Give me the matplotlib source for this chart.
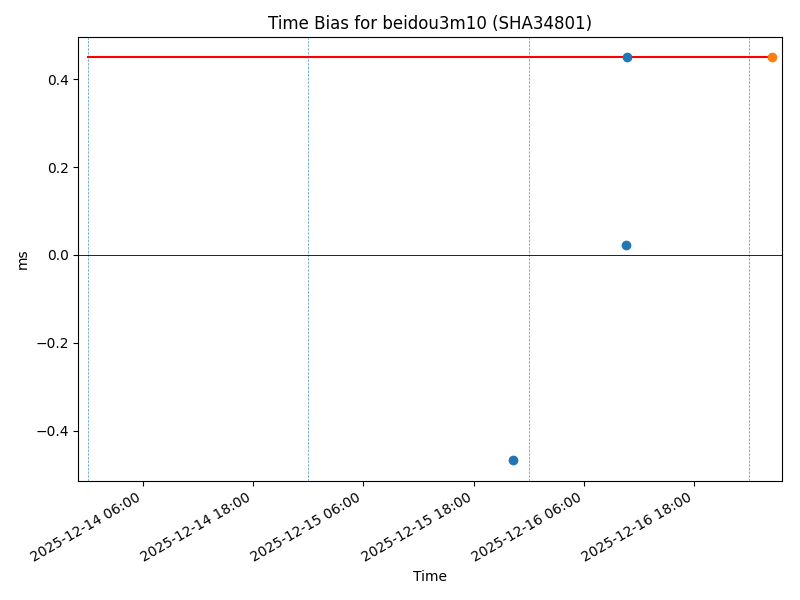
import datetime as dt
import matplotlib
matplotlib.use('Agg')
import matplotlib.pyplot as plt
import matplotlib.dates as mdates

# time bias samples (ms)
bias_times = ['2025-12-15 22:15', '2025-12-16 10:34', '2025-12-16 10:43']
bias_values = [-0.468, 0.023, 0.45]

# latest sample
last_time = '2025-12-17 02:29'
last_value = 0.45

threshold = 0.45
threshold_start = '2025-12-14 00:00'
day_marks = ['2025-12-14', '2025-12-15', '2025-12-16', '2025-12-17']

fmt = '%Y-%m-%d %H:%M'
t = [dt.datetime.strptime(s, fmt) for s in bias_times]
t_last = dt.datetime.strptime(last_time, fmt)
t_start = dt.datetime.strptime(threshold_start, fmt)
days = [dt.datetime.strptime(d, '%Y-%m-%d') for d in day_marks]

fig, ax = plt.subplots(figsize=(8, 6), dpi=100)

for d in days:
    ax.axvline(d, color='C0', linestyle='--', linewidth=0.5, alpha=0.8)
ax.axhline(0, color='black', linewidth=0.6)
ax.plot([t_start, t_last], [threshold, threshold], color='red', linewidth=1.5)
ax.plot(t, bias_values, 'o', color='C0')
ax.plot([t_last], [last_value], 'o', color='C1')

ax.set_xlim(t_start - dt.timedelta(hours=1), t_last + dt.timedelta(hours=1.1))
ax.xaxis.set_major_locator(mdates.HourLocator(byhour=[6, 18]))
ax.xaxis.set_major_formatter(mdates.DateFormatter('%Y-%m-%d %H:%M'))

ax.set_title('Time Bias for beidou3m10 (SHA34801)')
ax.set_xlabel('Time')
ax.set_ylabel('ms')
fig.autofmt_xdate()
fig.subplots_adjust(left=0.098, right=0.978, top=0.938, bottom=0.199)

plt.savefig('out.png')
